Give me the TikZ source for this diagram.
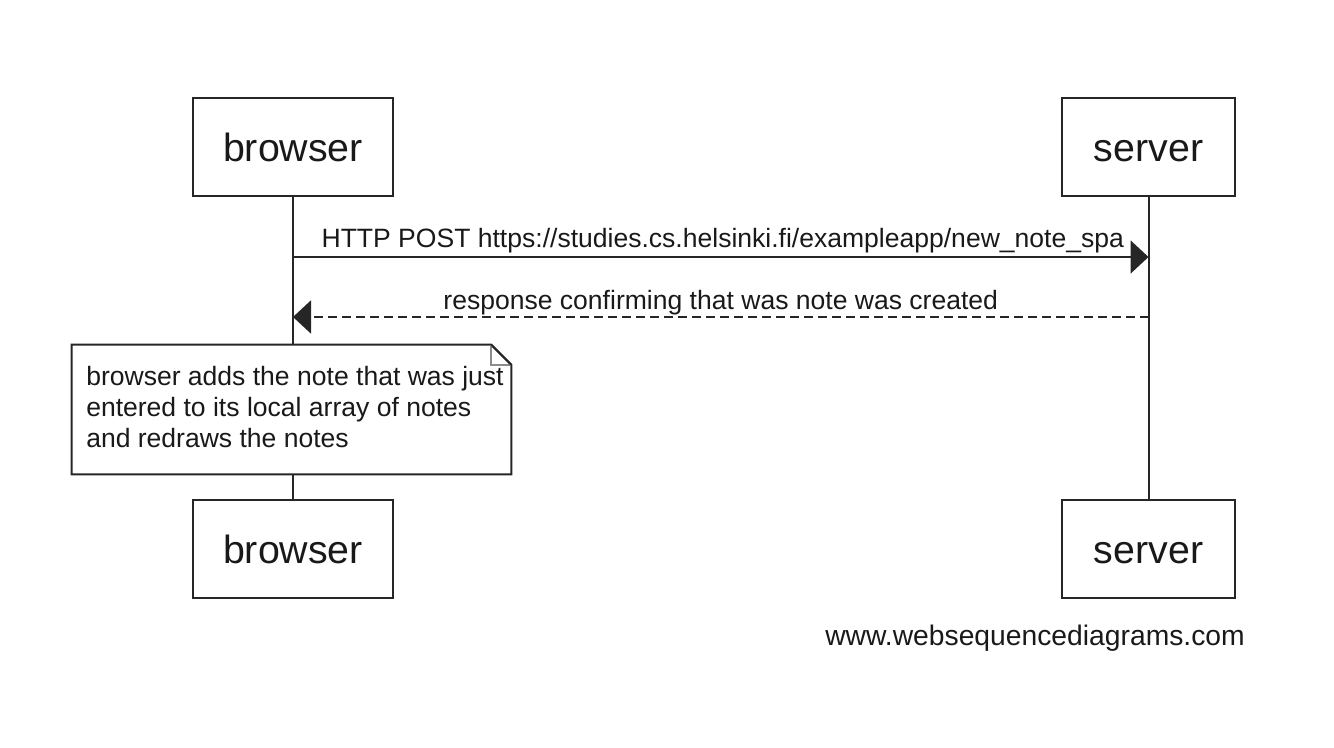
\documentclass[tikz,border=0pt]{standalone}
\usepackage{fontspec}
\setmainfont{Liberation Sans}
\usetikzlibrary{arrows.meta}
\begin{document}
\begin{tikzpicture}[x=0.75pt,y=-0.75pt,
  ln/.style={draw=black!85, line width=1.5pt},
  actor/.style={ln, rectangle, minimum height=73.5pt, inner sep=0pt,
    font=\fontsize{29.5}{34}\selectfont, text height=21.5pt, text depth=0pt, text=black!90},
  msg/.style={ln, -{Triangle[length=13.5pt,width=24.75pt]}},
  msglabel/.style={font=\fontsize{19.9}{23.25}\selectfont, text=black!90, anchor=base, inner sep=0pt},
  notetxt/.style={font=\fontsize{19.9}{23.25}\selectfont, text=black!90, anchor=base west, inner sep=0pt, align=left},
  fold/.style={draw=black!45, line width=1.2pt}
]
\useasboundingbox (0,0) rectangle (1334,748);
% actors
\node[actor, minimum width=150pt] (btop) at (293,147) {browser};
\node[actor, minimum width=129.75pt] (stop) at (1148.5,147) {server};
\node[actor, minimum width=150pt] (bbot) at (293,549) {browser};
\node[actor, minimum width=129.75pt] (sbot) at (1148.5,549) {server};
% note box
\node[minimum width=329.25pt, minimum height=96.75pt, inner sep=0pt] (note) at (291.5,409.5) {};
% lifelines
\draw[ln] (btop.south) -- (btop.south |- note.north);
\draw[ln] (bbot.north |- note.south) -- (bbot.north);
\draw[ln] (stop.south) -- (sbot.north);
% messages
\coordinate (m1b) at (293,257);
\coordinate (m1s) at (1148.5,257);
\coordinate (m2s) at (1148.5,317);
\coordinate (m2b) at (293,317);
\draw[msg] (m1b) -- node[msglabel, pos=0.5, xshift=1.5pt, yshift=6.75pt] (l1) {HTTP POST https://studies.cs.helsinki.fi/exampleapp/new\_note\_spa} (m1s);
\draw[msg, dash pattern=on 6.75pt off 3.75pt] (m2s) -- node[msglabel, pos=0.5, yshift=5.25pt] (l2) {response confirming that was note was created} (m2b);
% note outline
\draw[ln, fill=white] (note.north west) -- ([xshift=-15pt]note.north east) -- ([yshift=-15pt]note.north east) -- (note.south east) -- (note.south west) -- cycle;
\draw[fold] ([xshift=-15pt]note.north east) -- ([xshift=-15pt,yshift=-15pt]note.north east) -- ([yshift=-15pt]note.north east);
\draw[ln] ([xshift=-15pt]note.north east) -- ([yshift=-15pt]note.north east);
\node[notetxt] (nt1) at (86,385) {browser adds the note that was just};
\node[notetxt] (nt2) at (86,416) {entered to its local array of notes};
\node[notetxt] (nt3) at (86,447) {and redraws the notes};
% watermark
\node[font=\fontsize{21.2}{25}\selectfont, text=black!90, anchor=base, inner sep=0pt] (wm) at (1035,645) {www.websequencediagrams.com};
\end{tikzpicture}
\end{document}
